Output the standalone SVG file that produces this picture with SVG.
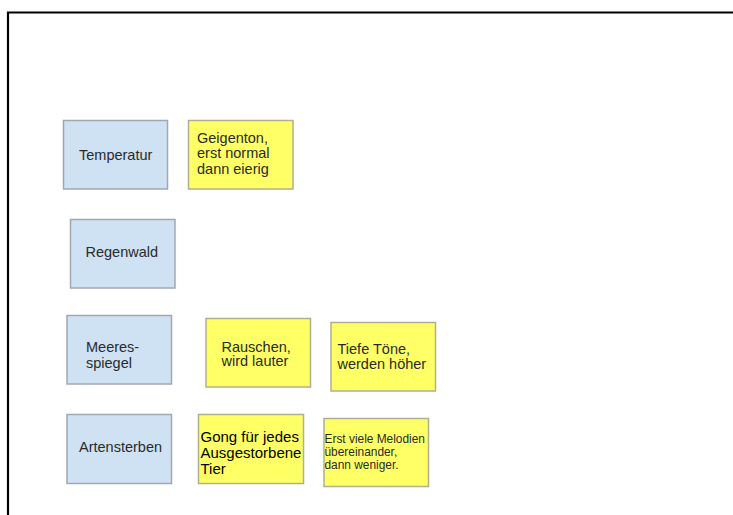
<svg xmlns="http://www.w3.org/2000/svg" width="733" height="515" viewBox="0 0 733 515">
<style>
.b{fill:#cfe2f3;stroke:#a0a8b0;stroke-width:1.5}
.y{fill:#ffff66;stroke:#b0b090;stroke-width:1.5}
text{font-family:"Liberation Sans",Arial,sans-serif;font-size:14.5px;fill:#2a2a2a}
.s{font-size:11.9px}
.g{font-size:15px;fill:#000}
</style>
<rect width="733" height="515" fill="#fff"/>
<path d="M8 515 V12.5 H733" fill="none" stroke="#000" stroke-width="2.2"/>
<g id="temperatur"><rect class="b" x="63.5" y="120.5" width="104" height="68.5"/><text x="79" y="160">Temperatur</text></g>
<g id="geigenton"><rect class="y" x="188.5" y="120.5" width="104.5" height="68.5"/><text x="197" y="142.7">Geigenton,</text><text x="197" y="158.3">erst normal</text><text x="197" y="174">dann eierig</text></g>
<g id="regenwald"><rect class="b" x="70.5" y="219.5" width="104.5" height="68.5"/><text x="85.5" y="256.7">Regenwald</text></g>
<g id="meeresspiegel"><rect class="b" x="67" y="315.5" width="104.5" height="68.5"/><text x="86" y="352">Meeres-</text><text x="86" y="368.3">spiegel</text></g>
<g id="rauschen"><rect class="y" x="206" y="318.5" width="104.5" height="68.5"/><text x="221.5" y="351.7">Rauschen,</text><text x="221.5" y="366.3">wird lauter</text></g>
<g id="tiefe"><rect class="y" x="331" y="322.5" width="104.5" height="68.5"/><text x="337.5" y="354">Tiefe Töne,</text><text x="337.5" y="368.5">werden höher</text></g>
<g id="artensterben"><rect class="b" x="67" y="414.5" width="104.5" height="69"/><text x="79" y="451.7">Artensterben</text></g>
<g id="gong"><rect class="y" x="198.5" y="414.5" width="105" height="69"/><text class="g" x="200.5" y="442.3">Gong für jedes</text><text class="g" x="200.5" y="458.3">Ausgestorbene</text><text class="g" x="200.5" y="474">Tier</text></g>
<g id="erstviele"><rect class="y" x="324" y="418.5" width="104.5" height="68"/><text class="s" x="324.5" y="442.7">Erst viele Melodien</text><text class="s" x="324.5" y="455.5">übereinander,</text><text class="s" x="324.5" y="469">dann weniger.</text></g>
<g id="connectors"/>
</svg>
